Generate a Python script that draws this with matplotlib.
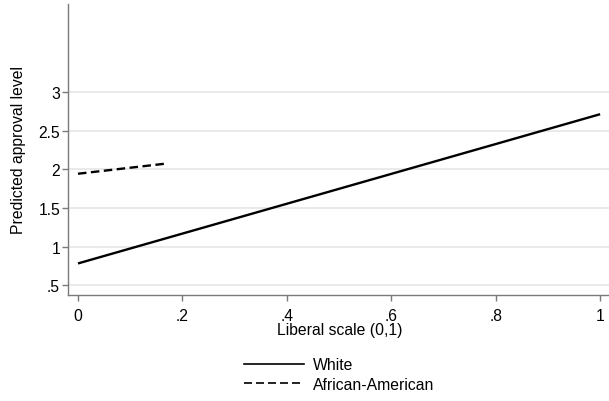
import numpy as np
import matplotlib
matplotlib.use("Agg")
import matplotlib.pyplot as plt
from matplotlib.lines import Line2D

plt.rcParams['font.family'] = ['Liberation Sans', 'DejaVu Sans']

# predicted approval at the ends of each group's observed liberal range
white_x = [0.0, 1.0]
white_y = [0.785, 2.715]
black_x = [0.0, 0.167]
black_y = [1.945, 2.075]

yticks = [0.5, 1, 1.5, 2, 2.5, 3]
ytick_labels = ['.5', '1', '1.5', '2', '2.5', '3']
xticks = [0, 0.2, 0.4, 0.6, 0.8, 1]
xtick_labels = ['0', '.2', '.4', '.6', '.8', '1']

fs = 11.3

fig = plt.figure(figsize=(6.09, 4.02), dpi=100)
ax = fig.add_axes([67.7/609, 106/402, 1 - 67.7/609, 291/402])

ax.plot(white_x, white_y, color='black', lw=1.7, solid_capstyle='butt')
ax.plot(black_x, black_y, color='black', lw=1.7, linestyle=(0, (3.6, 1.9)))

ax.set_xlim(-0.0197, 1.017)
ax.set_ylim(0.377, 4.14)

ax.set_yticks(yticks)
ax.set_yticklabels(ytick_labels)
ax.set_xticks(xticks)
ax.set_xticklabels(xtick_labels)

ax.yaxis.grid(True, color='#e6e6e6', lw=1.2)
ax.set_axisbelow(True)

for side in ['top', 'right']:
    ax.spines[side].set_visible(False)
for side in ['left', 'bottom']:
    ax.spines[side].set_color('#7a7a7a')
    ax.spines[side].set_linewidth(1.0)

ax.tick_params(axis='both', colors='#7a7a7a', labelcolor='black',
               labelsize=fs, length=4.5, width=1.0, direction='out')
ax.tick_params(axis='x', pad=5)
ax.tick_params(axis='y', pad=1)

ax.set_ylabel('')
fig.text(19/609, 1 - 150/402, 'Predicted approval level', fontsize=fs,
         rotation=90, ha='center', va='center')
fig.text(339.5/609, 1 - 331/402, 'Liberal scale (0,1)', fontsize=fs,
         ha='center', va='center')

handles = [Line2D([], [], color='black', lw=1.2),
           Line2D([], [], color='black', lw=1.2, linestyle=(0, (4.8, 2.4)))]
fig.legend(handles, ['White', 'African-American'], loc='center',
           bbox_to_anchor=(339.5/609, 1 - 375.5/402), frameon=False,
           fontsize=fs, handlelength=3.8, handletextpad=0.6,
           labelspacing=0.3, borderpad=0)

fig.savefig('out.png', dpi=100)
